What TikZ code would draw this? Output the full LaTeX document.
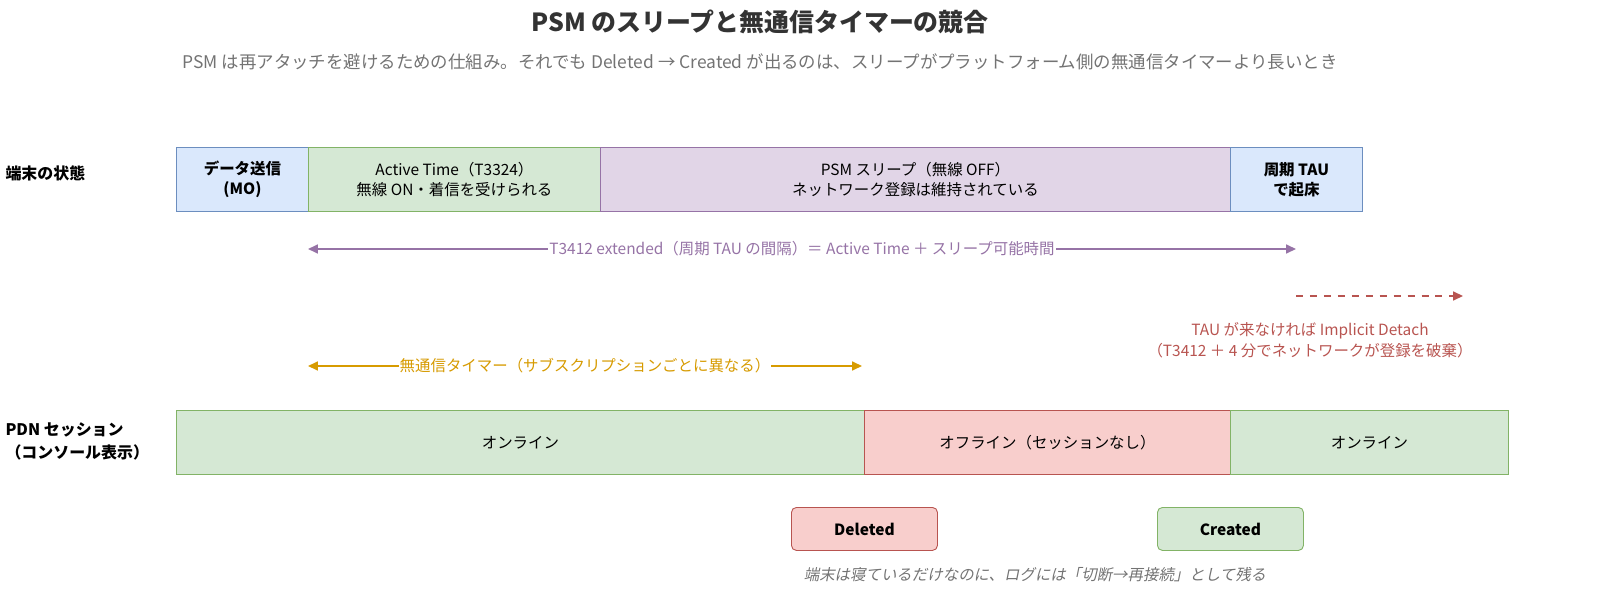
\documentclass[tikz,border=0pt]{standalone}
\usepackage{fontspec}
\setmainfont{Noto Sans CJK JP}
\newfontfamily\cjkit{Noto Sans CJK JP}[FakeSlant=0.2]
\usetikzlibrary{arrows.meta}
\definecolor{bF}{HTML}{DAE8FC}\definecolor{bS}{HTML}{6C8EBF}
\definecolor{gF}{HTML}{D5E8D4}\definecolor{gS}{HTML}{82B366}
\definecolor{pF}{HTML}{E1D5E7}\definecolor{pS}{HTML}{9673A6}
\definecolor{rF}{HTML}{F8CECC}\definecolor{rS}{HTML}{B85450}
\definecolor{oS}{HTML}{D79B00}
\begin{document}
\begin{tikzpicture}[x=1bp,y=-1bp,
 box/.style={draw,line width=0.9pt,minimum height=64bp,inner sep=0pt,font=\fontsize{15.5}{20}\selectfont,align=center,anchor=north west},
 lab/.style={font=\bfseries\fontsize{16}{23}\selectfont,align=left,anchor=west},
 arr/.style={line width=1.8pt,{Triangle[length=10pt,width=9pt]}-{Triangle[length=10pt,width=9pt]}},
 albl/.style={fill=white,inner sep=1pt,font=\fontsize{15.5}{20}\selectfont}]
\useasboundingbox (0,0) rectangle (1600,605);
\node[font=\bfseries\fontsize{25}{30}\selectfont,text=black!80] (t) at (760,22) {PSM のスリープと無通信タイマーの競合};
\node[font=\fontsize{17.5}{22}\selectfont,text=black!55] (st) at (760,62) {PSM は再アタッチを避けるための仕組み。それでも Deleted → Created が出るのは、スリープがプラットフォーム側の無通信タイマーより長いとき};
\node[lab] (l1) at (2,173) {端末の状態};
\node[box,fill=bF,draw=bS,minimum width=132bp,font=\bfseries\fontsize{15.5}{20}\selectfont] (a1) at (176,147) {データ送信\\(MO)};
\node[box,fill=gF,draw=gS,minimum width=292bp] (a2) at (308,147) {Active Time（T3324）\\無線 ON・着信を受けられる};
\node[box,fill=pF,draw=pS,minimum width=630bp] (a3) at (600,147) {PSM スリープ（無線 OFF）\\ネットワーク登録は維持されている};
\node[box,fill=bF,draw=bS,minimum width=132bp,font=\bfseries\fontsize{15.5}{20}\selectfont] (a4) at (1230,147) {周期 TAU\\で起床};
\coordinate (p1) at (308,249); \coordinate (p2) at (1296,249);
\draw[arr,pS] (p1) -- (p2) node[midway,albl,text=pS] {T3412 extended（周期 TAU の間隔）＝ Active Time ＋ スリープ可能時間};
\coordinate (r1) at (1296,296); \coordinate (r2) at (1463,296);
\draw[rS,line width=1.8pt,dash pattern=on 7pt off 7pt,-{Triangle[length=10pt,width=9pt]}] (r1) -- (r2);
\node[text=rS,font=\fontsize{15.5}{21}\selectfont,align=center] (rt) at (1310,340) {TAU が来なければ Implicit Detach\\（T3412 ＋ 4 分でネットワークが登録を破棄）};
\coordinate (o1) at (308,366); \coordinate (o2) at (862,366);
\draw[arr,oS] (o1) -- (o2) node[midway,albl,text=oS] {無通信タイマー（サブスクリプションごとに異なる）};
\node[lab] (l2) at (2,441) {PDN セッション\\（コンソール表示）};
\node[box,fill=gF,draw=gS,minimum width=688bp] (b1) at (176,410) {オンライン};
\node[box,fill=rF,draw=rS,minimum width=366bp] (b2) at (864,410) {オフライン（セッションなし）};
\node[box,fill=gF,draw=gS,minimum width=278bp] (b3) at (1230,410) {オンライン};
\node[box,fill=rF,draw=rS,minimum width=146bp,minimum height=43bp,rounded corners=5pt,font=\bfseries\fontsize{15.5}{20}\selectfont] (d) at (791,507) {Deleted};
\node[box,fill=gF,draw=gS,minimum width=146bp,minimum height=43bp,rounded corners=5pt,font=\bfseries\fontsize{15.5}{20}\selectfont] (c) at (1157,507) {Created};
\node[text=black!55,font=\cjkit\fontsize{15.5}{20}\selectfont] (cap) at (1035,575) {端末は寝ているだけなのに、ログには「切断→再接続」として残る};
\end{tikzpicture}
\end{document}
